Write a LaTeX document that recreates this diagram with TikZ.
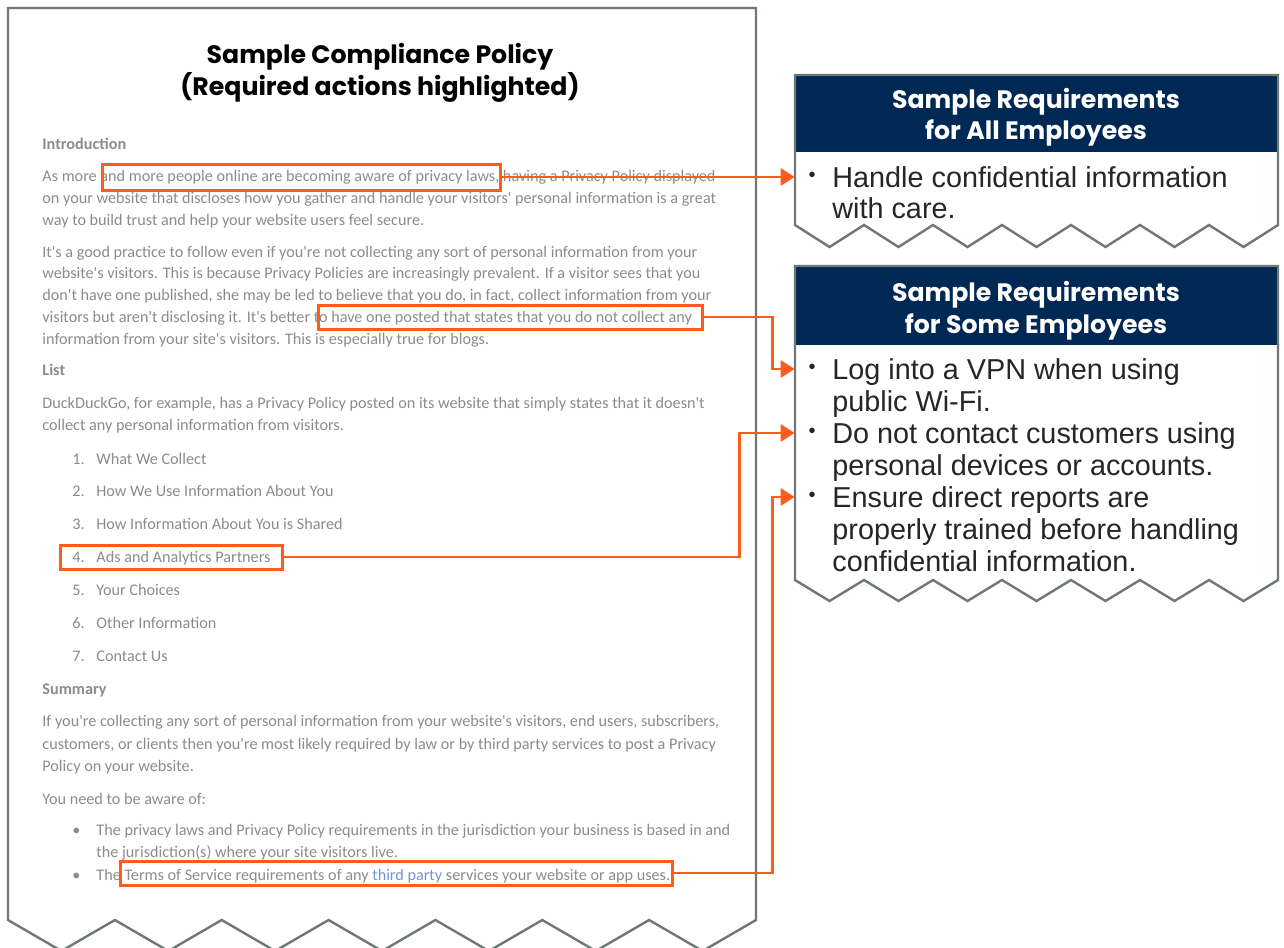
\documentclass[tikz,border=0pt]{standalone}
\usepackage{fontspec}
\setmainfont{Liberation Sans}
\newfontfamily\headfont{Poppins}
\newfontfamily\blurfont{Carlito}
\usetikzlibrary{arrows.meta}

\newlength{\du}
\setlength{\du}{0.5pt}

\begin{document}
\begin{tikzpicture}[
  docline/.style={anchor=base west, inner sep=0pt, text=black!45,
    font=\blurfont\fontsize{8.1}{11}\selectfont},
  dochead/.style={docline, font=\blurfont\bfseries\fontsize{8.1}{11}\selectfont},
  titleline/.style={anchor=base, inner sep=0pt, text=black,
    font=\headfont\bfseries\fontsize{12.6}{16}\selectfont},
  marked/.style={draw=hookorange, line width=1.5pt, inner sep=0pt},
  hook/.style={draw=hookorange, line width=1.4pt,
    -{Triangle[length=7pt,width=8.5pt]}},
  pageedge/.style={draw=edgegray, line width=1.2pt},
  reqhead/.style={anchor=base, inner sep=0pt, text=white,
    font=\headfont\bfseries\fontsize{12.6}{15}\selectfont},
  reqline/.style={anchor=base west, inner sep=0pt, text=inkgray,
    font=\fontsize{14.4}{16}\selectfont},
  reqdot/.style={inner sep=0pt, minimum width=34\du, text=inkgray,
    font=\fontsize{10}{12}\selectfont}
]
\pgftransformxscale{1.000000}
\pgftransformyscale{-1.000000}
\definecolor{edgegray}{rgb}{0.430000, 0.470000, 0.460000}
\definecolor{hookorange}{rgb}{0.990000, 0.360000, 0.110000}
\definecolor{navyhead}{rgb}{0.000000, 0.155000, 0.330000}
\definecolor{inkgray}{rgb}{0.150000, 0.150000, 0.150000}
\definecolor{linkblue}{rgb}{0.450000, 0.580000, 0.850000}
\useasboundingbox (0\du,0\du) rectangle (1284\du,947\du);
\fill[white] (0\du,0\du) rectangle (1284\du,947\du);

% the policy page
\draw[pageedge] (8\du,920\du) -- (8\du,8\du) -- (756\du,8\du) -- (756\du,920\du)
  -- (702.6\du,951\du) -- (649.1\du,920\du) -- (595.7\du,951\du) -- (542.3\du,920\du)
  -- (488.9\du,951\du) -- (435.4\du,920\du) -- (382\du,951\du) -- (328.6\du,920\du)
  -- (275.1\du,951\du) -- (221.7\du,920\du) -- (168.3\du,951\du) -- (114.9\du,920\du)
  -- (61.4\du,951\du) -- cycle;
\node[titleline] (title1) at (380\du,64\du) {Sample Compliance Policy};
\node[titleline] (title2) at (380\du,96\du) {(Required actions highlighted)};

\node[dochead] (intro) at (42\du,149\du) {Introduction};
\node[docline] (introa) at (42\du,181\du) {As more and more people online are becoming aware of privacy laws, having a Privacy Policy displayed};
\node[docline] (introb) at (42\du,203\du) {on your website that discloses how you gather and handle your visitors' personal information is a great};
\node[docline] (introc) at (42\du,225\du) {way to build trust and help your website users feel secure.};
\node[docline] (pracA) at (42\du,257\du) {It's a good practice to follow even if you're not collecting any sort of personal information from your};
\node[docline] (pracB) at (42\du,278\du) {website's visitors. This is because Privacy Policies are increasingly prevalent. If a visitor sees that you};
\node[docline] (pracC) at (42\du,300\du) {don't have one published, she may be led to believe that you do, in fact, collect information from your};
\node[docline] (pracD) at (42\du,322\du) {visitors but aren't disclosing it. It's better to have one posted that states that you do not collect any};
\node[docline] (pracE) at (42\du,344\du) {information from your site's visitors. This is especially true for blogs.};
\node[dochead] (list) at (42\du,375\du) {List};
\node[docline] (ducka) at (42\du,408\du) {DuckDuckGo, for example, has a Privacy Policy posted on its website that simply states that it doesn't};
\node[docline] (duckb) at (42\du,430\du) {collect any personal information from visitors.};
\node[docline] (num1) at (72\du,464\du) {1.};
\node[docline] (item1) at (96\du,464\du) {What We Collect};
\node[docline] (num2) at (72\du,496\du) {2.};
\node[docline] (item2) at (96\du,496\du) {How We Use Information About You};
\node[docline] (num3) at (72\du,529\du) {3.};
\node[docline] (item3) at (96\du,529\du) {How Information About You is Shared};
\node[docline] (num4) at (72\du,562\du) {4.};
\node[docline] (item4) at (96\du,562\du) {Ads and Analytics Partners};
\node[docline] (num5) at (72\du,595\du) {5.};
\node[docline] (item5) at (96\du,595\du) {Your Choices};
\node[docline] (num6) at (72\du,628\du) {6.};
\node[docline] (item6) at (96\du,628\du) {Other Information};
\node[docline] (num7) at (72\du,661\du) {7.};
\node[docline] (item7) at (96\du,661\du) {Contact Us};
\node[dochead] (summary) at (42\du,694\du) {Summary};
\node[docline] (suma) at (42\du,726\du) {If you're collecting any sort of personal information from your website's visitors, end users, subscribers,};
\node[docline] (sumb) at (42\du,749\du) {customers, or clients then you're most likely required by law or by third party services to post a Privacy};
\node[docline] (sumc) at (42\du,771\du) {Policy on your website.};
\node[docline] (aware) at (42\du,804\du) {You need to be aware of:};
\node[docline] (dotlaw) at (72\du,835\du) {\textbullet};
\node[docline] (lawa) at (96\du,835\du) {The privacy laws and Privacy Policy requirements in the jurisdiction your business is based in and};
\node[docline] (lawb) at (96\du,857\du) {the jurisdiction(s) where your site visitors live.};
\node[docline] (dottos) at (72\du,880\du) {\textbullet};
\node[docline] (tos) at (96\du,880\du) {The Terms of Service requirements of any \textcolor{linkblue}{third party} services your website or app uses.};

% highlighted actions
\node[marked, minimum width=398\du, minimum height=26\du] (mark1) at (301\du,177\du) {};
\node[marked, minimum width=384\du, minimum height=24\du] (mark2) at (510\du,317\du) {};
\node[marked, minimum width=222\du, minimum height=24\du] (mark3) at (171\du,557\du) {};
\node[marked, minimum width=552\du, minimum height=24\du] (mark4) at (396\du,873\du) {};

% requirements for all employees
\fill[navyhead] (795\du,75\du) rectangle (1278\du,152\du);
\draw[pageedge] (795\du,225\du) -- (795\du,75\du) -- (1278\du,75\du) -- (1278\du,225\du)
  -- (1243.5\du,247\du) -- (1209\du,225\du) -- (1174.5\du,247\du) -- (1140\du,225\du)
  -- (1105.5\du,247\du) -- (1071\du,225\du) -- (1036.5\du,247\du) -- (1002\du,225\du)
  -- (967.5\du,247\du) -- (933\du,225\du) -- (898.5\du,247\du) -- (864\du,225\du)
  -- (829.5\du,247\du) -- cycle;
\node[reqhead] (allhead1) at (1036\du,109\du) {Sample Requirements};
\node[reqhead] (allhead2) at (1036\du,140\du) {for All Employees};
\node[reqdot] (dotall) at (812\du,177\du) {\textbullet};
\node[reqline] (alla) at (832\du,187\du) {Handle confidential information};
\node[reqline] (allb) at (832\du,218\du) {with care.};

% requirements for some employees
\fill[navyhead] (795\du,266\du) rectangle (1278\du,345\du);
\draw[pageedge] (795\du,580\du) -- (795\du,266\du) -- (1278\du,266\du) -- (1278\du,580\du)
  -- (1243.5\du,601\du) -- (1209\du,580\du) -- (1174.5\du,601\du) -- (1140\du,580\du)
  -- (1105.5\du,601\du) -- (1071\du,580\du) -- (1036.5\du,601\du) -- (1002\du,580\du)
  -- (967.5\du,601\du) -- (933\du,580\du) -- (898.5\du,601\du) -- (864\du,580\du)
  -- (829.5\du,601\du) -- cycle;
\node[reqhead] (somehead1) at (1036\du,301\du) {Sample Requirements};
\node[reqhead] (somehead2) at (1036\du,333\du) {for Some Employees};
\node[reqdot] (dotvpn) at (812\du,369\du) {\textbullet};
\node[reqline] (vpna) at (832\du,379\du) {Log into a VPN when using};
\node[reqline] (vpnb) at (832\du,411\du) {public Wi-Fi.};
\node[reqdot] (dotcontact) at (812\du,433\du) {\textbullet};
\node[reqline] (contacta) at (832\du,443\du) {Do not contact customers using};
\node[reqline] (contactb) at (832\du,475\du) {personal devices or accounts.};
\node[reqdot] (dotreports) at (812\du,497\du) {\textbullet};
\node[reqline] (reportsa) at (832\du,507\du) {Ensure direct reports are};
\node[reqline] (reportsb) at (832\du,539\du) {properly trained before handling};
\node[reqline] (reportsc) at (832\du,571\du) {confidential information.};

% connectors
\draw[hook] (mark1.east) -- (dotall.west);
\draw[hook] (mark2.east) -| ([xshift=-22\du]dotvpn.west) -- (dotvpn.west);
\draw[hook] (mark3.east) -| ([xshift=-55\du]dotcontact.west) -- (dotcontact.west);
\draw[hook] (mark4.east) -| ([xshift=-22\du]dotreports.west) -- (dotreports.west);
\end{tikzpicture}
\end{document}
